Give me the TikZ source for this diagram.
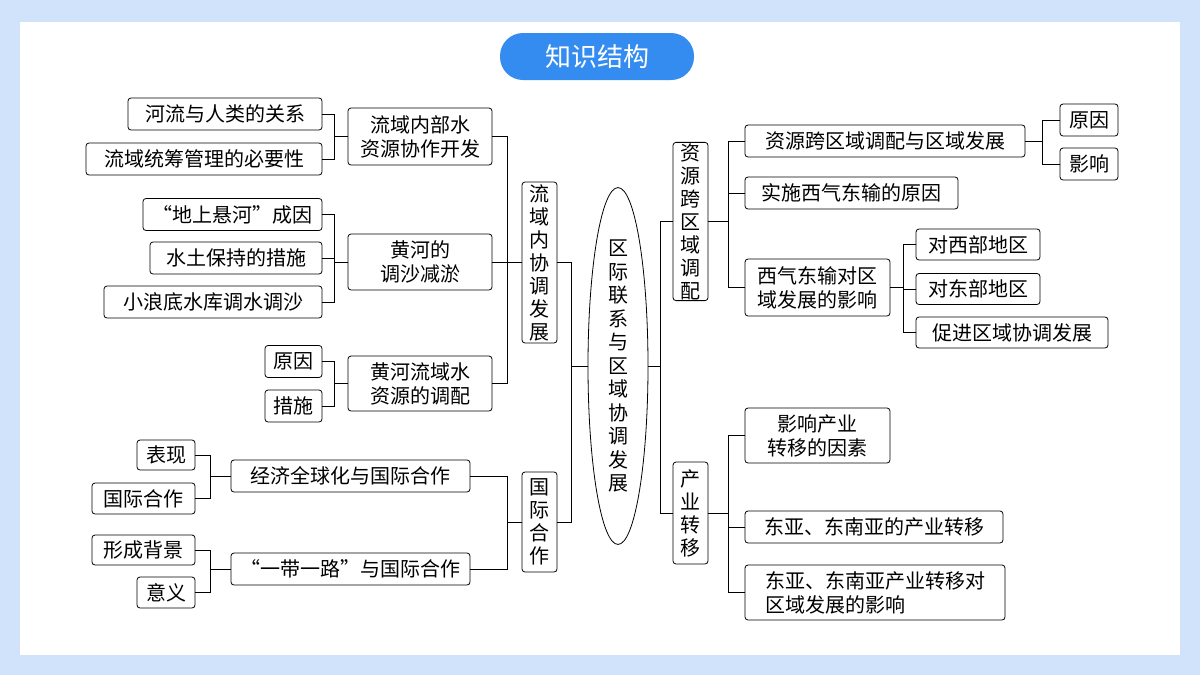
\documentclass[tikz,border=0pt]{standalone}
\usepackage{fontspec}
\setmainfont{Noto Sans CJK SC}
\usetikzlibrary{shapes.geometric}
\definecolor{bgblue}{RGB}{208,227,250}
\definecolor{pill}{RGB}{52,140,240}
\begin{document}
\begin{tikzpicture}[x=1pt,y=-1pt,
  box/.style={draw,rounded corners=3pt,line width=0.8pt,inner sep=1pt,align=center,minimum height=32pt,font=\fontsize{20}{24}\selectfont},
  vbox/.style={box,minimum width=35pt,font=\fontsize{20}{23}\selectfont},
  con/.style={line width=0.8pt}]
\fill[bgblue] (0,0) rectangle (1200,675);
\fill[white] (20,22) rectangle (1180,655);
\useasboundingbox (0,0) rectangle (1200,675);
\node[fill=pill,rounded corners=23pt,minimum width=194pt,minimum height=47pt,text=white,font=\fontsize{26}{30}\selectfont] (T) at (597,56.5) {知识结构};
% left
\node[box,minimum width=194pt] (a1) at (225,114) {河流与人类的关系};
\node[box,minimum width=236pt] (a2) at (204,159) {流域统筹管理的必要性};
\node[box,minimum width=144pt,minimum height=57pt] (A) at (420,136.5) {流域内部水\\资源协作开发};
\node[box,minimum width=179pt] (b1) at (232.5,214.5) {“地上悬河”成因};
\node[box,minimum width=172pt] (b2) at (236,258) {水土保持的措施};
\node[box,minimum width=218pt] (b3) at (213,302) {小浪底水库调水调沙};
\node[box,minimum width=144pt,minimum height=56pt] (B) at (420,262) {黄河的\\调沙减淤};
\node[box,minimum width=57pt] (c1) at (293.5,361.5) {原因};
\node[box,minimum width=57pt] (c2) at (293.5,406) {措施};
\node[box,minimum width=144pt,minimum height=55pt] (C) at (420,383.5) {黄河流域水\\资源的调配};
\node[vbox,minimum height=161pt] (L1) at (539.5,262.5) {流\\域\\内\\协\\调\\发\\展};
\node[box,minimum width=58pt,minimum height=30pt] (d1) at (166,455) {表现};
\node[box,minimum width=103pt,minimum height=31pt] (d2) at (143.5,498.5) {国际合作};
\node[box,minimum width=239pt] (D) at (350.5,476) {经济全球化与国际合作};
\node[box,minimum width=103pt,minimum height=30pt] (e1) at (143.5,550) {形成背景};
\node[box,minimum width=58pt,minimum height=31pt] (e2) at (166,592.5) {意义};
\node[box,minimum width=239pt] (E) at (350.5,569) {“一带一路”与国际合作};
\node[vbox,minimum height=100pt] (L2) at (539.5,522) {国\\际\\合\\作};
% center
\node[draw,ellipse,line width=0.8pt,minimum width=60pt,minimum height=276pt,inner sep=0pt,align=center,font=\fontsize{20}{23.5}\selectfont] (M) at (618,366) {区\\际\\联\\系\\与\\区\\域\\协\\调\\发\\展};
% right
\node[vbox,minimum height=157pt] (R1) at (690.5,221.5) {资\\源\\跨\\区\\域\\调\\配};
\node[box,minimum width=280pt] (f1) at (885,141) {资源跨区域调配与区域发展};
\node[box,minimum width=58pt] (f11) at (1089,120) {原因};
\node[box,minimum width=58pt] (f12) at (1089,164) {影响};
\node[box,minimum width=213pt] (f2) at (851.5,193) {实施西气东输的原因};
\node[box,minimum width=145pt,minimum height=57pt] (f3) at (817.5,287.5) {西气东输对区\\域发展的影响};
\node[box,minimum width=124pt,minimum height=31pt] (g1) at (978,244.5) {对西部地区};
\node[box,minimum width=124pt,minimum height=31pt] (g2) at (978,289) {对东部地区};
\node[box,minimum width=192pt,minimum height=31pt] (g3) at (1012,332.5) {促进区域协调发展};
\node[vbox,minimum height=102pt] (R2) at (690.5,513) {产\\业\\转\\移};
\node[box,minimum width=145pt,minimum height=55pt] (h1) at (817.5,435.5) {影响产业\\转移的因素};
\node[box,minimum width=258pt] (h2) at (874,527) {东亚、东南亚的产业转移};
\node[box,minimum width=260pt,minimum height=55pt,align=left] (h3) at (875,592.5) {东亚、东南亚产业转移对\\区域发展的影响};
% connectors
\foreach \p/\c in {A/a1,A/a2,B/b1,B/b2,B/b3,C/c1,C/c2}
  \draw[con] (\p.west) -- ++(-13,0) |- (\c.east);
\foreach \p/\c in {D/d1,D/d2,E/e1,E/e2}
  \draw[con] (\p.west) -- ++(-20,0) |- (\c.east);
\foreach \p/\c in {L1/A,L1/B,L1/C,L2/D,L2/E}
  \draw[con] (\p.west) -- ++(-14,0) |- (\c.east);
\foreach \c in {L1,L2}
  \draw[con] (M.west) -- ++(-16,0) |- (\c.east);
\foreach \c in {R1,R2}
  \draw[con] (M.east) -- ++(12,0) |- (\c.west);
\foreach \p/\c in {R1/f1,R1/f2,R1/f3,R2/h1,R2/h2,R2/h3}
  \draw[con] (\p.east) -- ++(20,0) |- (\c.west);
\foreach \c in {g1,g2,g3}
  \draw[con] (f3.east) -- ++(13,0) |- (\c.west);
\foreach \c in {f11,f12}
  \draw[con] (f1.east) -- ++(17,0) |- (\c.west);
\end{tikzpicture}
\end{document}
